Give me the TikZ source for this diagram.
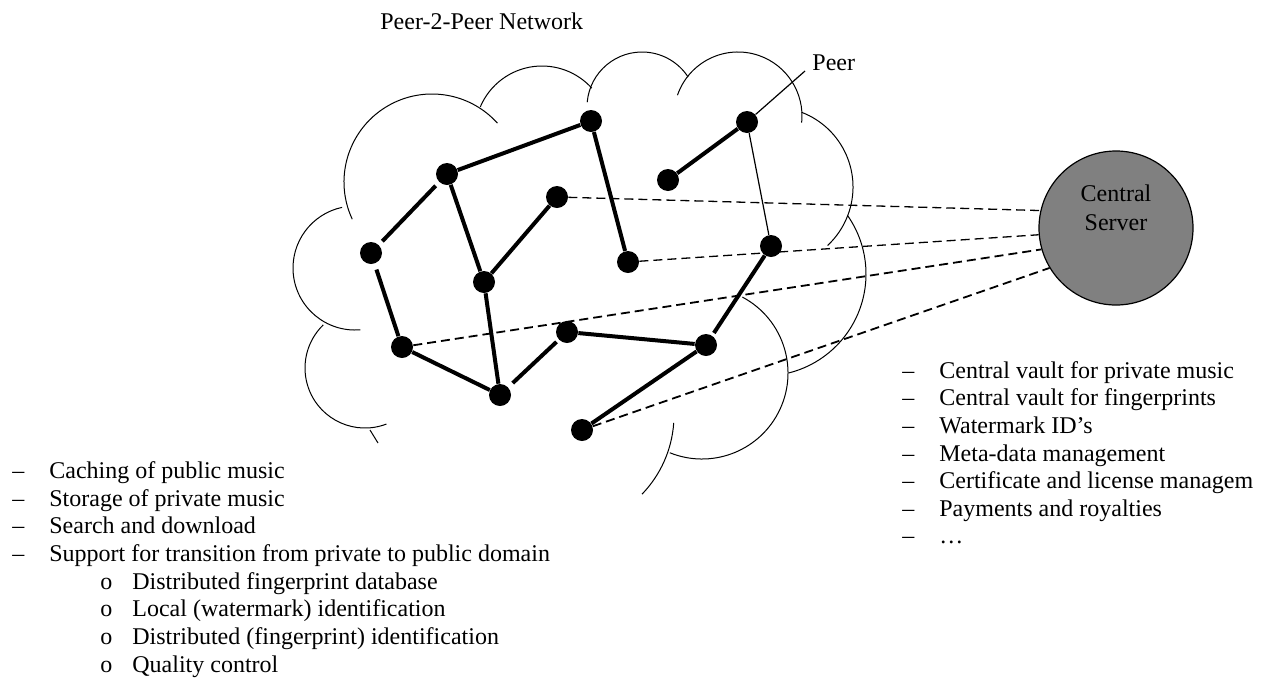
\documentclass[tikz,border=0pt]{standalone}
\usepackage{fontspec}
\setmainfont{Liberation Serif}
\usetikzlibrary{positioning}
\newcommand\dotsz{11pt}
\newcommand\dashitem[1]{\makebox[18.5pt][l]{–}#1}
\newcommand\oitem[1]{\makebox[16pt][l]{o}#1}
\newcommand\scallop[5]{\draw[cloudline] (#1,#2) ++(#4:#3) arc[start angle=#4, end angle=#5, radius=#3];}
\tikzset{
  peerdot/.style={circle, fill=black, inner sep=0pt, minimum size=\dotsz},
  conn/.style={line width=2pt},
  thinconn/.style={line width=0.6pt},
  srvconn/.style={line width=0.65pt, dash pattern=on 4.5pt off 2.5pt},
  cloudline/.style={line width=0.5pt},
  server/.style={circle, draw, fill=gray, line width=0.6pt, inner sep=0pt, minimum size=77pt},
  txt/.style={anchor=base west, inner sep=0pt, font=\fontsize{12}{14}\selectfont},
}

\begin{document}
\begin{tikzpicture}[x=0.5pt, y=-0.5pt]
  \useasboundingbox (0,0) rectangle (1265,681);
  % cloud
  \scallop{432}{182}{88}{155}{318}
  \scallop{542}{133}{67}{203}{318}
  \scallop{642}{107}{55}{185}{327}
  \scallop{738}{116}{64}{199}{366}
  \scallop{773}{187}{80}{-69}{47}
  \scallop{764}{274}{102}{-35}{76}
  \scallop{702}{373}{86}{-62}{112}
  \scallop{560}{415}{114}{4}{44}
  \scallop{355}{268}{62}{85}{258}
  \scallop{365}{368}{60}{69}{226}
  \draw[cloudline] (370,430) -- (378,443);

  \node[txt] (title) at (380,29) {Peer-2-Peer Network};

  % peers
  \node[peerdot] (p1) at (371,253) {};
  \node[peerdot] (p2) at (447,174) {};
  \node[peerdot] (p3) at (591,121) {};
  \node[peerdot] (p4) at (557,197) {};
  \node[peerdot] (p5) at (484,282) {};
  \node[peerdot] (p6) at (628,262) {};
  \node[peerdot] (p7) at (402,347) {};
  \node[peerdot] (p8) at (500,395) {};
  \node[peerdot] (p9) at (567,332) {};
  \node[peerdot] (p10) at (706,345) {};
  \node[peerdot] (p11) at (582,430) {};
  \node[peerdot] (p12) at (771,246) {};
  \node[peerdot] (p13) at (747,122) {};
  \node[peerdot] (p14) at (668,180) {};
  \coordinate (peertip) at (805,71);
  \node[txt] (peerlbl) at (812,70) {Peer};

  % central server
  \node[server] (srv) at (1116,228) {};
  \node[align=center, inner sep=0pt, font=\fontsize{12}{14.5}\selectfont] (srvtxt)
    at ([yshift=10pt]srv.center) {Central\\Server};

  % links to the server
  \draw[srvconn] (p4) -- (srv.167);
  \draw[srvconn] (p6) -- (srv.185);
  \draw[srvconn, line width=0.9pt] (p7) -- (srv.196);
  \draw[srvconn, line width=0.9pt] (p11) -- (srv.211);

  % overlay links
  \draw[conn, shorten <=2.5pt, shorten >=2.5pt] (p1) -- (p2);
  \draw[conn] (p2) -- (p3);
  \draw[conn] (p2) -- (p5);
  \draw[conn] (p5) -- (p4);
  \draw[conn] (p5) -- (p8);
  \draw[conn] (p3) -- (p6);
  \draw[conn, shorten <=3pt] (p1) -- (p7);
  \draw[conn] (p7) -- (p8);
  \draw[conn, shorten <=3pt, shorten >=1.5pt] (p8) -- (p9);
  \draw[conn] (p9) -- (p10);
  \draw[conn] (p10) -- (p11);
  \draw[conn, shorten <=1.5pt] (p10) -- (p12);
  \draw[conn] (p14) -- (p13);
  \draw[thinconn] (p13) -- (p12);
  \draw[thinconn] (p13) -- (peertip);

  % peer tasks
  \node[txt] (l1) at (12,478) {\dashitem{Caching of public music}};
  \node[txt] (l2) at (12,506) {\dashitem{Storage of private music}};
  \node[txt] (l3) at (12,533) {\dashitem{Search and download}};
  \node[txt] (l4) at (12,561) {\dashitem{Support for transition from private to public domain}};
  \node[txt] (l5) at (100,589) {\oitem{Distributed fingerprint database}};
  \node[txt] (l6) at (100,616) {\oitem{Local (watermark) identification}};
  \node[txt] (l7) at (100,644) {\oitem{Distributed (fingerprint) identification}};
  \node[txt] (l8) at (100,672) {\oitem{Quality control}};

  % server tasks
  \node[txt] (r1) at (902,378) {\dashitem{Central vault for private music}};
  \node[txt] (r2) at (902,405) {\dashitem{Central vault for fingerprints}};
  \node[txt] (r3) at (902,433) {\dashitem{Watermark ID’s}};
  \node[txt] (r4) at (902,461) {\dashitem{Meta-data management}};
  \node[txt] (r5) at (902,488) {\dashitem{Certificate and license managem}};
  \node[txt] (r6) at (902,516) {\dashitem{Payments and royalties}};
  \node[txt] (r7) at (902,543) {\dashitem{…}};
\end{tikzpicture}
\end{document}
